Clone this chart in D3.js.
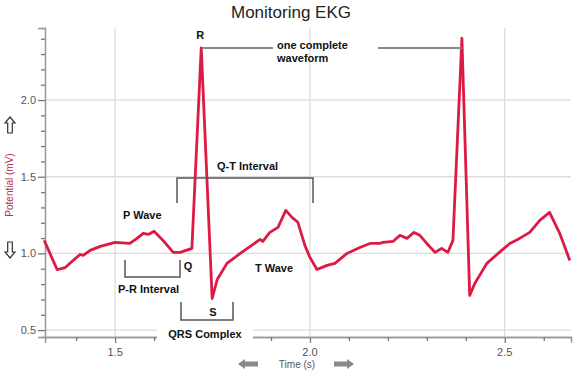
<!DOCTYPE html>
<html lang="en">

<head>
    <meta charset="UTF-8">
    <title>Monitoring EKG</title>
    <script src="https://cdn.jsdelivr.net/npm/d3@7"></script>
    <style>
        body { margin: 0; background: #fff; }
        text { font-family: Arial, "Liberation Sans", sans-serif; }
    </style>
</head>

<body>
    <svg width="584" height="377" id="mainsvg"></svg>
</body>
<script>
    // trace: time (s) and potential (mV)
    const times = [1.318, 1.351, 1.372, 1.392, 1.410, 1.418, 1.436, 1.462, 1.500, 1.538, 1.556, 1.572, 1.585, 1.600,
        1.623, 1.649, 1.667, 1.697, 1.721, 1.749, 1.762, 1.787, 1.821, 1.854, 1.872, 1.879, 1.897, 1.918, 1.938,
        1.954, 1.969, 1.987, 2.000, 2.018, 2.044, 2.064, 2.095, 2.128, 2.154, 2.179, 2.187, 2.213, 2.231, 2.249,
        2.267, 2.282, 2.300, 2.321, 2.338, 2.354, 2.367, 2.390, 2.410, 2.423, 2.454, 2.492, 2.513, 2.538, 2.564,
        2.590, 2.615, 2.641, 2.667]
    const potentials = [1.085, 0.895, 0.908, 0.954, 0.993, 0.987, 1.020, 1.046, 1.072, 1.065, 1.098, 1.131, 1.124, 1.144,
        1.085, 1.007, 1.007, 1.033, 2.340, 0.706, 0.830, 0.935, 1.000, 1.059, 1.091, 1.078, 1.137, 1.170, 1.281,
        1.235, 1.203, 1.052, 0.974, 0.895, 0.922, 0.935, 1.000, 1.039, 1.065, 1.065, 1.072, 1.078, 1.118, 1.098,
        1.137, 1.118, 1.065, 1.007, 1.033, 1.007, 1.085, 2.403, 0.726, 0.804, 0.935, 1.020, 1.065, 1.098, 1.137,
        1.216, 1.268, 1.131, 0.954]

    const xMajor = [1.5, 2.0, 2.5]
    const yMajor = [0.5, 1.0, 1.5, 2.0]
    const xMinor = [1.4, 1.6, 1.7, 1.8, 1.9, 2.1, 2.2, 2.3, 2.4, 2.6]
    const yMinor = [0.6, 0.7, 0.8, 0.9, 1.1, 1.2, 1.3, 1.4, 1.6, 1.7, 1.8, 1.9, 2.1, 2.2, 2.3, 2.4]

    const svg = d3.select('#mainsvg')
    const margin = { top: 28, right: 13, bottom: 40, left: 45 }
    const width = +svg.attr('width')
    const height = +svg.attr('height')

    // scales map straight to page pixels
    const xScale = d3.scaleLinear().domain([1.32, 2.67]).range([margin.left, width - margin.right])
    const yScale = d3.scaleLinear().domain([0.455, 2.47]).range([height - margin.bottom, margin.top])
    const x0 = margin.left, x1 = width - margin.right
    const y0 = height - margin.bottom, y1 = margin.top

    // grid
    svg.selectAll('.vgrid').data(xMajor).enter().append('line')
        .attr('x1', d => xScale(d)).attr('x2', d => xScale(d))
        .attr('y1', y1).attr('y2', y0)
        .attr('stroke', '#dcdcdc').attr('stroke-width', 1.3)
    svg.selectAll('.hgrid').data(yMajor).enter().append('line')
        .attr('x1', x0).attr('x2', x1)
        .attr('y1', d => yScale(d)).attr('y2', d => yScale(d))
        .attr('stroke', '#dcdcdc').attr('stroke-width', 1.3)

    // axes (tick marks from d3, labels placed separately)
    const yAxis = d3.axisLeft(yScale).tickValues(yMajor).tickFormat('').tickSize(7)
    const yAxisMinor = d3.axisLeft(yScale).tickValues(yMinor).tickFormat('').tickSize(4)
    const xAxis = d3.axisBottom(xScale).tickValues(xMajor).tickFormat('').tickSize(6)
    const xAxisMinor = d3.axisBottom(xScale).tickValues(xMinor).tickFormat('').tickSize(4)

    svg.append('g').attr('transform', `translate(${x0},0)`).call(yAxis)
    svg.append('g').attr('transform', `translate(${x0},0)`).call(yAxisMinor)
    svg.append('g').attr('transform', `translate(0,${y0})`).call(xAxis)
    svg.append('g').attr('transform', `translate(0,${y0})`).call(xAxisMinor)
    svg.selectAll('.tick text').remove()

    svg.selectAll('.domain').attr('stroke', '#999').attr('stroke-width', 1.3)
    svg.selectAll('.tick line').attr('stroke', '#777').attr('stroke-width', 1.3)

    svg.selectAll('.ylab').data(yMajor).enter().append('text')
        .text(d => d.toFixed(1))
        .attr('x', x0 - 9).attr('y', d => yScale(d) + 4)
        .attr('text-anchor', 'end').attr('font-size', '11px').attr('fill', '#555')
    svg.selectAll('.xlab').data(xMajor).enter().append('text')
        .text(d => d.toFixed(1))
        .attr('x', d => xScale(d)).attr('y', y0 + 19)
        .attr('text-anchor', 'middle').attr('font-size', '11px').attr('fill', '#555')

    // EKG trace
    const points = times.map((t, i) => [t, potentials[i]])
    const line = d3.line().x(d => xScale(d[0])).y(d => yScale(d[1]))
    svg.append('path').datum(points)
        .attr('d', line)
        .attr('fill', 'none')
        .attr('stroke', '#dc1a44')
        .attr('stroke-width', 2.8)
        .attr('stroke-linejoin', 'round')

    // annotations
    const bold = (x, y, s, anchor) => svg.append('text').text(s)
        .attr('x', x).attr('y', y + 4).attr('text-anchor', anchor || 'start')
        .attr('font-size', '11px').attr('font-weight', 'bold').attr('fill', '#111')
    const seg = (pts, color) => svg.append('path').attr('d', d3.line()(pts))
        .attr('fill', 'none').attr('stroke', color || '#555').attr('stroke-width', 1.5)

    const rPeak1 = [xScale(times[18]), yScale(potentials[18])]
    const rPeak2 = [xScale(times[51]), yScale(potentials[51])]

    bold(rPeak1[0] - 1, 35, 'R', 'middle')
    seg([[rPeak1[0] + 1, 48], [273, 48]], '#888').attr('stroke-width', 2)
    seg([[378, 48], [rPeak2[0], 48]], '#888').attr('stroke-width', 2)
    bold(277, 45, 'one complete')
    bold(277, 58, 'waveform')

    bold(217, 166, 'Q-T Interval')
    seg([[177, 203], [177, 178], [313, 178], [313, 203]])

    bold(123, 215, 'P Wave')
    seg([[125, 260], [125, 277], [180, 277], [180, 260]])
    bold(118, 289, 'P-R Interval')
    bold(188, 266, 'Q', 'middle')

    bold(213, 312, 'S', 'middle')
    seg([[181, 302], [181, 320], [233, 320], [233, 302]])
    svg.append('rect').attr('x', 157).attr('y', 325).attr('width', 96).attr('height', 17).attr('fill', '#fff')
    bold(205, 334, 'QRS Complex', 'middle')

    bold(255, 268, 'T Wave')

    // title and axis labels
    svg.append('text').text('Monitoring EKG')
        .attr('x', 291).attr('y', 18).attr('text-anchor', 'middle')
        .attr('font-size', '17px').attr('fill', '#222')
    svg.append('text').text('Time (s)')
        .attr('x', 297).attr('y', 368).attr('text-anchor', 'middle')
        .attr('font-size', '10px').attr('fill', '#555')
    svg.append('text').text('Potential (mV)')
        .attr('transform', 'translate(13,185) rotate(-90)').attr('text-anchor', 'middle')
        .attr('font-size', '10px').attr('fill', '#b03055')

    // block arrows beside axis labels
    const hArrow = 'M0,0 L7,-5 L7,-2.5 L20,-2.5 L20,2.5 L7,2.5 L7,5 Z'
    svg.append('path').attr('d', hArrow).attr('transform', 'translate(238,364)').attr('fill', '#8a8a8a')
    svg.append('path').attr('d', hArrow).attr('transform', 'translate(354,364) scale(-1,1)').attr('fill', '#8a8a8a')
    const vArrow = 'M0,0 L5,6 L2.3,6 L2.3,16 L-2.3,16 L-2.3,6 L-5,6 Z'
    svg.append('path').attr('d', vArrow).attr('transform', 'translate(10,117)')
        .attr('fill', '#fff').attr('stroke', '#333').attr('stroke-width', 1.2)
    svg.append('path').attr('d', vArrow).attr('transform', 'translate(10,258) scale(1,-1)')
        .attr('fill', '#fff').attr('stroke', '#333').attr('stroke-width', 1.2)
</script>

</html>
